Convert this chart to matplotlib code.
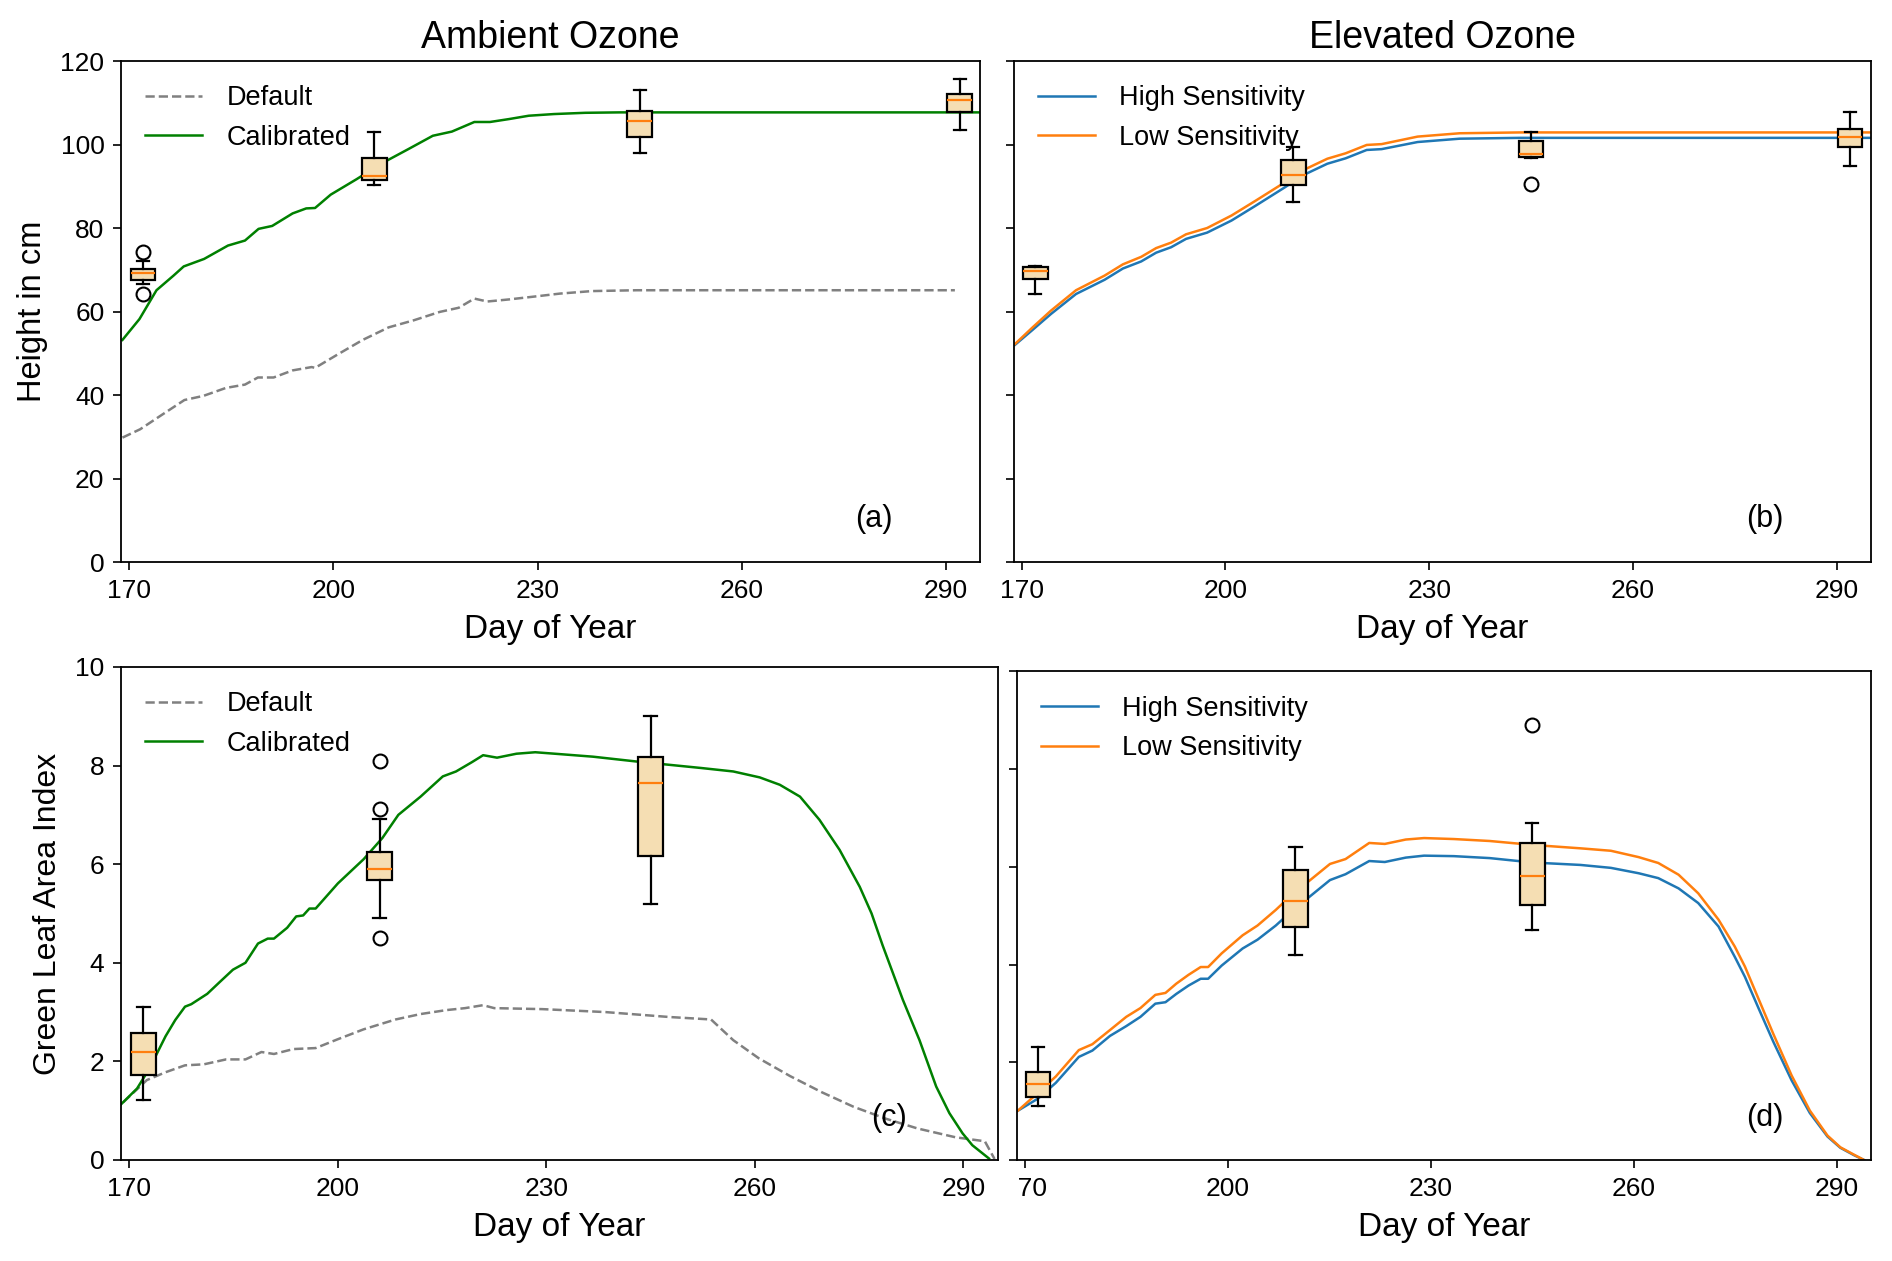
import numpy as np
import matplotlib
matplotlib.use("Agg")
import matplotlib.pyplot as plt
from matplotlib.transforms import Bbox, TransformedBbox

plt.rcParams["font.family"] = ["Liberation Sans", "DejaVu Sans"]

# ---------------- data ----------------
# (a) height, ambient ozone
a_cal_day = [169, 171.5, 174, 176.5, 178, 181, 184.5, 187, 189, 191,
             192.5, 194, 196, 197.3, 199.6, 203.4, 207, 211, 214.6, 217.4,
             220.7, 223, 225.8, 228.7, 232.4, 237, 242, 250, 295]
a_cal_val = [53.2, 58.2, 65.1, 68.6, 70.8, 72.6, 75.8, 77.0, 79.8, 80.5,
             82.0, 83.5, 84.7, 84.8, 88.0, 91.7, 95.4, 98.9, 102.1, 103.1,
             105.4, 105.4, 106.1, 106.9, 107.3, 107.6, 107.7, 107.7, 107.7]
a_def_day = [169, 171.6, 175.3, 178.1, 180.9, 184.2, 187, 188.9, 191.2, 194,
             196.8, 197.3, 200.6, 204.3, 208.1, 211.8, 215.6, 218.4, 220.7, 222.6,
             225.8, 229.6, 233.3, 238, 244.6, 291.3]
a_def_val = [29.8, 31.8, 35.8, 38.8, 39.8, 41.7, 42.5, 44.2, 44.2, 45.9,
             46.7, 46.5, 49.7, 53.2, 56.2, 57.9, 59.9, 60.9, 63.1, 62.4,
             62.9, 63.6, 64.3, 64.9, 65.1, 65.1]
a_box_pos = [172, 206, 245, 292]
a_box_lo = [66.5, 90.3, 97.9, 103.5]
a_box_q1 = [67.6, 91.5, 101.8, 107.8]
a_box_med = [69.2, 92.4, 105.6, 110.6]
a_box_q3 = [70.2, 96.7, 108.1, 112.0]
a_box_hi = [72.0, 103.1, 113.1, 115.8]
a_box_fliers = [[74.2, 64.3], [], [], []]

# (b) height, elevated ozone
b_day = [169, 171.6, 174.3, 178, 182.2, 184.9, 187.6, 189.8, 192, 194.2,
         197.3, 200.9, 204.4, 208.8, 211.5, 215, 217.7, 220.8, 223, 228.3,
         234.5, 243.4, 295]
b_low = [52.2, 56.2, 60.2, 65.1, 68.6, 71.3, 73.1, 75.2, 76.5, 78.5,
         80.0, 83.0, 86.5, 91.0, 93.9, 96.6, 97.9, 99.9, 100.1, 101.9,
         102.7, 102.9, 102.9]
b_high = [52.0, 55.6, 59.4, 64.2, 67.6, 70.3, 72.0, 74.1, 75.4, 77.4,
          78.9, 81.8, 85.3, 89.8, 92.7, 95.4, 96.7, 98.7, 98.9, 100.6,
          101.4, 101.6, 101.6]
b_box_pos = [172, 210, 245, 292]
b_box_lo = [64.3, 86.3, 96.7, 94.9]
b_box_q1 = [67.9, 90.3, 96.9, 99.3]
b_box_med = [69.8, 92.7, 97.7, 101.9]
b_box_q3 = [70.6, 96.3, 100.9, 103.7]
b_box_hi = [70.9, 99.4, 103.1, 107.9]
b_box_fliers = [[], [], [90.5], []]

# (c) green LAI, ambient ozone
c_cal_day = [168.8, 171.1, 172.9, 175.2, 176.6, 178, 178.9, 181.2, 183, 184.9,
             186.7, 188.5, 189.9, 190.8, 192.7, 194, 195, 195.9, 196.8, 200,
             203.7, 206.4, 208.7, 211.9, 215.1, 217, 219.3, 220.9, 222.9, 225.7,
             228.4, 231.2, 236.7, 243.1, 252.3, 256.9, 260.7, 263.6, 266.5, 269.3,
             272.2, 275.1, 276.8, 278.4, 281.3, 283.7, 286.1, 288, 289.9, 291.3,
             293.7]
c_cal_val = [1.13, 1.45, 1.86, 2.51, 2.84, 3.11, 3.16, 3.37, 3.61, 3.86,
             4.0, 4.39, 4.49, 4.49, 4.71, 4.94, 4.96, 5.10, 5.10, 5.61,
             6.10, 6.53, 7.0, 7.37, 7.78, 7.88, 8.07, 8.21, 8.16, 8.24,
             8.27, 8.24, 8.18, 8.08, 7.95, 7.88, 7.76, 7.61, 7.37, 6.90,
             6.29, 5.54, 5.00, 4.35, 3.25, 2.43, 1.49, 0.95, 0.54, 0.30,
             0.03]
c_def_day = [169.1, 172.5, 175.2, 178, 180.7, 183.9, 186.7, 189, 190.8, 193.6,
             196.8, 200, 203.7, 208.3, 211.9, 215.6, 218.3, 220.9, 222.5, 229.4,
             238.5, 247.7, 253.7, 256.9, 260.6, 265.1, 269.7, 274.2, 278.8, 283.4,
             288.9, 293.1, 294.5]
c_def_val = [1.17, 1.62, 1.78, 1.92, 1.94, 2.04, 2.04, 2.19, 2.15, 2.25,
             2.27, 2.45, 2.65, 2.85, 2.96, 3.04, 3.08, 3.14, 3.08, 3.06,
             3.0, 2.90, 2.85, 2.43, 2.06, 1.70, 1.37, 1.08, 0.84, 0.64,
             0.46, 0.38, 0.02]
c_box_pos = [172, 206, 245]
c_box_lo = [1.21, 4.90, 5.20]
c_box_q1 = [1.73, 5.68, 6.17]
c_box_med = [2.20, 5.90, 7.65]
c_box_q3 = [2.57, 6.24, 8.18]
c_box_hi = [3.11, 6.92, 9.0]
c_box_fliers = [[], [8.10, 7.12, 4.51], []]

# (d) green LAI, elevated ozone
d_day = [169, 172, 174.6, 178, 180, 182.6, 185, 187.1, 189.3, 190.8,
         192.4, 194.2, 196, 197.1, 199.1, 202.2, 204.4, 207.1, 209.4, 212,
         215.1, 217.4, 220.9, 223.2, 226.3, 229, 233.4, 238.7, 245, 252.1,
         256.6, 260.7, 263.6, 266.6, 269.5, 272.5, 274.9, 276.4, 278.5, 280.6,
         283.3, 286, 288.6, 290.5, 292.5, 294]
d_low = [1.01, 1.38, 1.71, 2.25, 2.37, 2.66, 2.93, 3.11, 3.38, 3.42,
         3.61, 3.79, 3.95, 3.95, 4.23, 4.60, 4.80, 5.12, 5.42, 5.71,
         6.06, 6.16, 6.49, 6.47, 6.56, 6.59, 6.57, 6.53, 6.45, 6.38,
         6.33, 6.20, 6.08, 5.84, 5.46, 4.92, 4.37, 3.96, 3.27, 2.58,
         1.73, 1.01, 0.50, 0.26, 0.11, 0.0]
d_high = [1.01, 1.26, 1.58, 2.11, 2.24, 2.54, 2.74, 2.93, 3.20, 3.23,
          3.40, 3.57, 3.71, 3.71, 3.98, 4.33, 4.51, 4.80, 5.09, 5.38,
          5.73, 5.85, 6.12, 6.10, 6.19, 6.23, 6.22, 6.18, 6.09, 6.04,
          5.98, 5.87, 5.77, 5.56, 5.26, 4.78, 4.16, 3.75, 3.08, 2.42,
          1.63, 0.96, 0.48, 0.25, 0.10, 0.0]
d_box_pos = [172, 210, 245]
d_box_lo = [1.10, 4.20, 4.70]
d_box_q1 = [1.28, 4.76, 5.21]
d_box_med = [1.55, 5.30, 5.81]
d_box_q3 = [1.80, 5.93, 6.48]
d_box_hi = [2.31, 6.41, 6.90]
d_box_fliers = [[], [], [8.90]]

x_ticks = [170, 200, 230, 260, 290]

# ---------------- helpers ----------------
LW = 1.8
BOX_LW = 1.6


def draw_boxes(ax, pos, lo, q1, med, q3, hi, fliers):
    stats = [dict(whislo=l, q1=a, med=m, q3=b, whishi=h, fliers=f)
             for l, a, m, b, h, f in zip(lo, q1, med, q3, hi, fliers)]
    ax.bxp(stats, positions=pos, widths=3.6, patch_artist=True,
           manage_ticks=False,
           boxprops=dict(facecolor="wheat", edgecolor="black", linewidth=BOX_LW),
           medianprops=dict(color="#ff7f0e", linewidth=BOX_LW),
           whiskerprops=dict(color="black", linewidth=BOX_LW),
           capprops=dict(color="black", linewidth=BOX_LW),
           flierprops=dict(marker="o", markerfacecolor="none",
                           markeredgecolor="black", markersize=10,
                           markeredgewidth=1.5))


def style(ax, letter):
    ax.set_xlim(168.8, 295)
    ax.set_xticks(x_ticks)
    for s in ax.spines.values():
        s.set_linewidth(1.3)
    ax.tick_params(direction="out", length=5.5, width=1.2, labelsize=19, pad=6.5)
    ax.set_xlabel("Day of Year", fontsize=24, labelpad=8)
    ax.text(0.876, 0.085, letter, transform=ax.transAxes, fontsize=22,
            ha="center", va="center")
    ax.legend(loc="upper left", frameon=False, fontsize=19.5,
              handlelength=2.1, handletextpad=0.9)


# ---------------- figure ----------------
fig = plt.figure(figsize=(18.92, 12.61), dpi=100)
ax_a = fig.add_axes([0.064, 0.5543, 0.454, 0.3973])
ax_b = fig.add_axes([0.5357, 0.5543, 0.453, 0.3973], sharey=ax_a)
ax_d = fig.add_axes([0.5373, 0.0801, 0.4515, 0.3874])
ax_c = fig.add_axes([0.064, 0.0801, 0.4635, 0.391], sharey=ax_d)

# (a)
ax_a.plot(a_def_day, a_def_val, "--", color="grey", lw=LW, label="Default")
ax_a.plot(a_cal_day, a_cal_val, color="green", lw=LW, label="Calibrated")
draw_boxes(ax_a, a_box_pos, a_box_lo, a_box_q1, a_box_med, a_box_q3,
           a_box_hi, a_box_fliers)
ax_a.set_ylim(0, 120)
ax_a.set_yticks(range(0, 121, 20))
ax_a.set_ylabel("Height in cm", fontsize=23.5, labelpad=9)
ax_a.set_title("Ambient Ozone", fontsize=27, pad=9.5)
style(ax_a, "(a)")

# (b)
ax_b.plot(b_day, b_high, color="#1f77b4", lw=LW, label="High Sensitivity")
ax_b.plot(b_day, b_low, color="#ff7f0e", lw=LW, label="Low Sensitivity")
draw_boxes(ax_b, b_box_pos, b_box_lo, b_box_q1, b_box_med, b_box_q3,
           b_box_hi, b_box_fliers)
ax_b.tick_params(labelleft=False)
ax_b.set_title("Elevated Ozone", fontsize=27, pad=9.5)
style(ax_b, "(b)")

# (c)
ax_c.plot(c_def_day, c_def_val, "--", color="grey", lw=LW, label="Default")
ax_c.plot(c_cal_day, c_cal_val, color="green", lw=LW, label="Calibrated")
draw_boxes(ax_c, c_box_pos, c_box_lo, c_box_q1, c_box_med, c_box_q3,
           c_box_hi, c_box_fliers)
ax_c.set_ylim(0, 10)
ax_c.set_yticks(range(0, 11, 2))
ax_c.set_ylabel("Green Leaf Area Index", fontsize=23, labelpad=9)
style(ax_c, "(c)")

# (d)
ax_d.plot(d_day, d_high, color="#1f77b4", lw=LW, label="High Sensitivity")
ax_d.plot(d_day, d_low, color="#ff7f0e", lw=LW, label="Low Sensitivity")
draw_boxes(ax_d, d_box_pos, d_box_lo, d_box_q1, d_box_med, d_box_q3,
           d_box_hi, d_box_fliers)
ax_d.tick_params(labelleft=False)
style(ax_d, "(d)")

# panel (d) was cropped at its left edge in the original: clip its x tick labels
fig.canvas.draw()
x0 = ax_d.get_position().x0 + 0.5 / 1892
clip = TransformedBbox(Bbox([[x0, 0], [1, 1]]), fig.transFigure)
for lab in ax_d.get_xticklabels():
    lab.set_clip_box(clip)
    lab.set_clip_on(True)

fig.savefig("out.png", dpi=100)
